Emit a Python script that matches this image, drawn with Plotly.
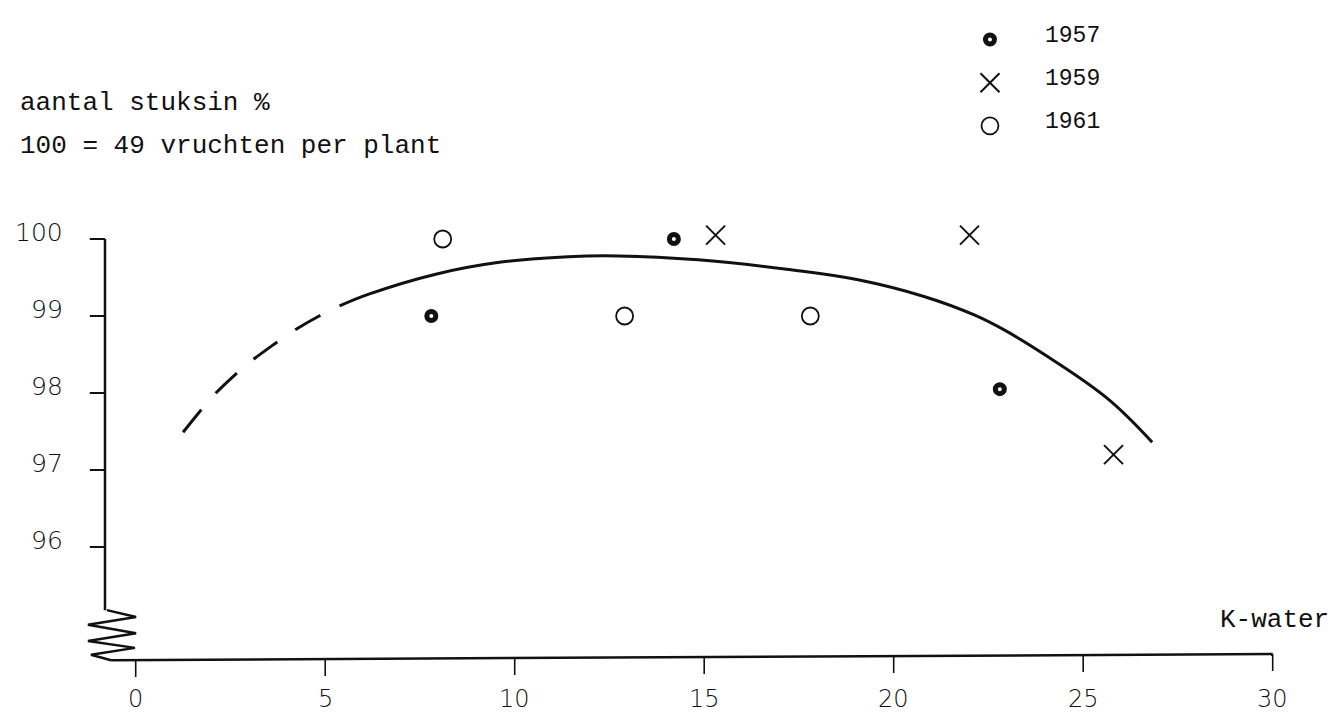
import plotly.graph_objects as go

# ---------------- data ----------------
years = ["1957", "1959", "1961"]
x_1957 = [7.8, 14.2, 22.8]
y_1957 = [99.0, 100.0, 98.05]
x_1959 = [15.3, 22.0, 25.8]
y_1959 = [100.05, 100.05, 97.2]
x_1961 = [8.1, 12.9, 17.8]
y_1961 = [100.0, 99.0, 99.0]

# fitted curve: dashed (extrapolated) part and solid part
curve_dash_x = [1.25, 1.66, 2.02, 2.54, 3.01, 3.67, 4.11, 4.84, 5.38]
curve_dash_y = [97.49, 97.74, 97.95, 98.20, 98.40, 98.64, 98.79, 99.00, 99.13]
curve_x = [5.38, 6.13, 7.89, 9.64, 11.41, 12.73, 14.84, 17.29, 19.06,
           20.82, 22.14, 23.02, 24.07, 25.66, 26.82]
curve_y = [99.13, 99.28, 99.54, 99.70, 99.77, 99.78, 99.73, 99.60, 99.47,
           99.25, 99.01, 98.79, 98.47, 97.92, 97.36]

x_ticks = [0, 5, 10, 15, 20, 25, 30]
y_ticks = [96, 97, 98, 99, 100]
x_tick_labels = [str(v) for v in x_ticks]
y_tick_labels = [str(v) for v in y_ticks]

title_lines = ["aantal stuksin %", "100 = 49 vruchten per plant"]
x_title = "K-water"

# ---------------- layout constants ----------------
W, H = 1339, 713
PX_X = 37.9          # pixels per x unit
PX_Y = 77.0          # pixels per y unit
X0 = -127.7 / PX_X
X1 = X0 + W / PX_X
Y1 = 100 + 231 / PX_Y
Y0 = Y1 - H / PX_Y

INK = "#111111"
TYPE_FONT = "Liberation Mono"
HAND_FONT = "DejaVu Sans"

Y_AXIS_X = -0.81
Y_AXIS_BOTTOM = 95.18
Y_TICK_LEN = 0.40
X_AXIS_LEFT = -0.65
X_AXIS_Y_L = 94.53
X_AXIS_Y_R = 94.61
X_TICK_LEN = 0.22
X_LABEL_Y = 94.03
# axis-break zigzag (axis decoration)
zig_x = [-0.76, 0.01, -1.26, 0.01, -1.26, -0.02, -1.18, -0.65]
zig_y = [95.18, 95.09, 94.99, 94.88, 94.78, 94.69, 94.60, 94.53]


def x_axis_y(x):
    return X_AXIS_Y_L + (X_AXIS_Y_R - X_AXIS_Y_L) * (x - X_AXIS_LEFT) / (30 - X_AXIS_LEFT)


fig = go.Figure()

# fitted curve
fig.add_trace(go.Scatter(x=curve_dash_x, y=curve_dash_y, mode="lines",
                         line=dict(color=INK, width=3, dash="29px,22px", shape="spline"),
                         hoverinfo="skip", showlegend=False))
fig.add_trace(go.Scatter(x=curve_x, y=curve_y, mode="lines",
                         line=dict(color=INK, width=3, shape="spline", smoothing=1.1),
                         hoverinfo="skip", showlegend=False))

styles = {
    "1957": dict(symbol="circle-open", size=9, line=dict(color=INK, width=5), color=INK),
    "1959": dict(symbol="x-thin", size=19, line=dict(color=INK, width=2), color=INK),
    "1961": dict(symbol="circle-open", size=17, line=dict(color=INK, width=1.8), color=INK),
}
series = {"1957": (x_1957, y_1957), "1959": (x_1959, y_1959), "1961": (x_1961, y_1961)}
for yr in years:
    xs, ys = series[yr]
    fig.add_trace(go.Scatter(x=xs, y=ys, mode="markers", name=yr,
                             marker=styles[yr], showlegend=False))

# ---------------- axes drawn as shapes ----------------
shapes = []
line_style = dict(color=INK, width=2.5)
# y axis
shapes.append(dict(type="line", x0=Y_AXIS_X, x1=Y_AXIS_X, y0=100, y1=Y_AXIS_BOTTOM,
                   xref="x", yref="y", line=line_style))
for v in y_ticks:
    shapes.append(dict(type="line", x0=Y_AXIS_X - Y_TICK_LEN, x1=Y_AXIS_X, y0=v, y1=v,
                       xref="x", yref="y", line=dict(color=INK, width=2)))
# zigzag break
zig_path = "M " + " L ".join(f"{a},{b}" for a, b in zip(zig_x, zig_y))
shapes.append(dict(type="path", path=zig_path, xref="x", yref="y",
                   line=dict(color=INK, width=2.5)))
# x axis
shapes.append(dict(type="line", x0=X_AXIS_LEFT, x1=30, y0=X_AXIS_Y_L, y1=X_AXIS_Y_R,
                   xref="x", yref="y", line=line_style))
for v in x_ticks:
    ya = x_axis_y(v)
    shapes.append(dict(type="line", x0=v, x1=v, y0=ya, y1=ya - X_TICK_LEN,
                       xref="x", yref="y", line=dict(color=INK, width=1.6)))

annotations = []
for v, lab in zip(y_ticks, y_tick_labels):
    annotations.append(dict(x=-1.86, y=v, text=lab, showarrow=False, xanchor="right",
                            yanchor="middle", yshift=7,
                            font=dict(family=HAND_FONT, size=25, color=INK, weight=200)))
for v, lab in zip(x_ticks, x_tick_labels):
    annotations.append(dict(x=v, y=X_LABEL_Y, text=lab, showarrow=False, xanchor="center",
                            yanchor="middle", borderpad=0,
                            font=dict(family=HAND_FONT, size=24, color=INK, weight=200)))

annotations.append(dict(x=-3.1, y=101.77, text=title_lines[0], showarrow=False,
                        xanchor="left", yanchor="middle",
                        font=dict(family=TYPE_FONT, size=26, color=INK)))
annotations.append(dict(x=-3.1, y=101.21, text=title_lines[1], showarrow=False,
                        xanchor="left", yanchor="middle",
                        font=dict(family=TYPE_FONT, size=26, color=INK)))
annotations.append(dict(x=28.55, y=95.05, text=x_title, showarrow=False,
                        xanchor="left", yanchor="middle",
                        font=dict(family=TYPE_FONT, size=26, color=INK)))

# ---------------- hand-made legend ----------------
LEG_X = 22.54
LEG_TEXT_X = 23.95
LEG_Y_TOP = 102.59
LEG_STEP = 0.56
for i, yr in enumerate(years):
    ly = LEG_Y_TOP - i * LEG_STEP
    fig.add_trace(go.Scatter(x=[LEG_X], y=[ly], mode="markers", marker=styles[yr],
                             showlegend=False, hoverinfo="skip"))
    annotations.append(dict(x=LEG_TEXT_X, y=ly, text=yr, showarrow=False, xanchor="left",
                            yanchor="middle", yshift=4,
                            font=dict(family=TYPE_FONT, size=23, color=INK)))

fig.update_layout(
    width=W, height=H, autosize=False,
    margin=dict(l=0, r=0, t=0, b=0),
    paper_bgcolor="white", plot_bgcolor="white",
    xaxis=dict(range=[X0, X1], visible=False, fixedrange=True),
    yaxis=dict(range=[Y0, Y1], visible=False, fixedrange=True),
    shapes=shapes, annotations=annotations, showlegend=False,
)

fig.write_html("out.html", config={"displayModeBar": False})
